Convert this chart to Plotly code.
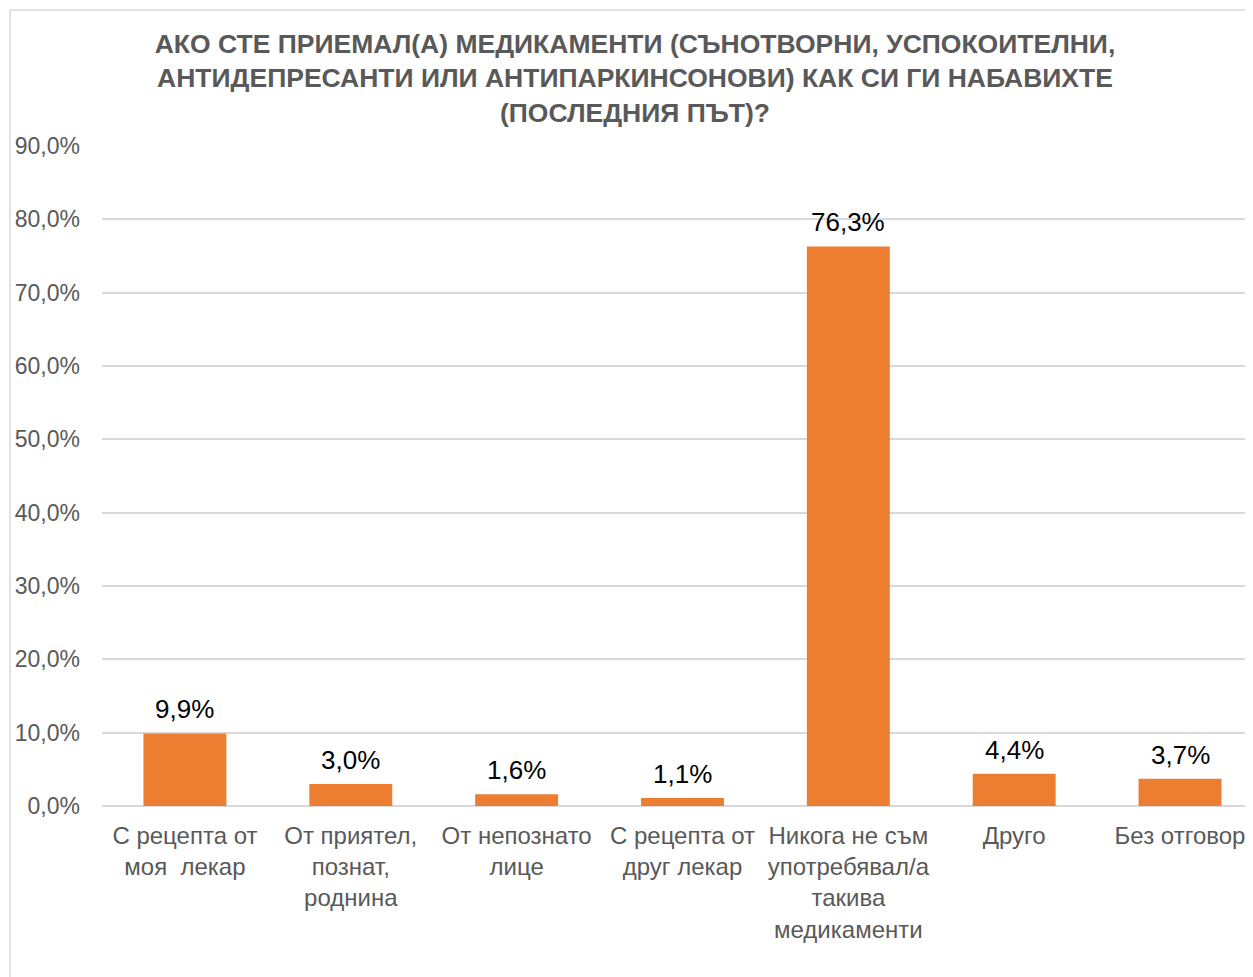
import plotly.graph_objects as go

categories = [
    "С рецепта от<br>моя  лекар",
    "От приятел,<br>познат,<br>роднина",
    "От непознато<br>лице",
    "С рецепта от<br>друг лекар",
    "Никога не съм<br>употребявал/а<br>такива<br>медикаменти",
    "Друго",
    "Без отговор",
]
values = [9.9, 3.0, 1.6, 1.1, 76.3, 4.4, 3.7]
labels = ["9,9%", "3,0%", "1,6%", "1,1%", "76,3%", "4,4%", "3,7%"]
tick_vals = [0, 10, 20, 30, 40, 50, 60, 70, 80, 90]
tick_text = ["0,0%", "10,0%", "20,0%", "30,0%", "40,0%", "50,0%", "60,0%", "70,0%", "80,0%", "90,0%"]
title = ("АКО СТЕ ПРИЕМАЛ(А) МЕДИКАМЕНТИ (СЪНОТВОРНИ, УСПОКОИТЕЛНИ,<br>"
         "АНТИДЕПРЕСАНТИ ИЛИ АНТИПАРКИНСОНОВИ) КАК СИ ГИ НАБАВИХТЕ<br>"
         "(ПОСЛЕДНИЯ ПЪТ)?")

# page has an 8px body margin; figure coordinates = page - 8
W, H = 1245, 969
ML, MR, MT, MB = 94, 0, 138, 171
FONT = "Liberation Sans, Arial, sans-serif"

fig = go.Figure()
fig.add_trace(go.Bar(
    x=list(range(len(categories))), y=values,
    marker=dict(color="#ED7D31", line=dict(width=0)),
    hoverinfo="skip",
))

for i, (v, t) in enumerate(zip(values, labels)):
    fig.add_annotation(x=i, y=v, text=t, showarrow=False, yanchor="bottom",
                       yshift=7, font=dict(family=FONT, size=26, color="#000000"))

pw = W - ML - MR
ph = H - MT - MB
def px2x(p):
    return (p - ML) / pw
def py2y(p):
    return (H - MB - p) / ph

border = dict(color="#D9D9D9", width=1.5)
fig.add_shape(type="line", xref="paper", yref="paper",
              x0=px2x(2), x1=px2x(2), y0=py2y(2), y1=py2y(H + 5), line=border)
fig.add_shape(type="line", xref="paper", yref="paper",
              x0=px2x(2), x1=px2x(W + 5), y0=py2y(2), y1=py2y(2), line=border)

fig.update_layout(
    width=W, height=H,
    margin=dict(l=ML, r=MR, t=MT, b=MB, pad=0),
    paper_bgcolor="white", plot_bgcolor="white",
    bargap=0.5, showlegend=False,
    title=dict(text=title, x=627 / W, xanchor="center", y=1 - 45 / H, yanchor="top",
               font=dict(family=FONT, size=26.5, color="#595959", weight="bold")),
    font=dict(family=FONT, color="#595959"),
    xaxis=dict(range=[-0.5, 6.44], tickvals=list(range(len(categories))), ticktext=categories,
               showgrid=False, zeroline=False, showline=False, ticks="",
               ticklabelstandoff=13, ticklabeloverflow="allow",
               tickfont=dict(size=24, color="#595959")),
    yaxis=dict(range=[0, 90], tickvals=tick_vals, ticktext=tick_text,
               showgrid=True, gridcolor="#D9D9D9", gridwidth=1.5,
               zeroline=True, zerolinecolor="#D9D9D9", zerolinewidth=1.5,
               ticks="", ticklabelstandoff=21,
               tickfont=dict(size=23, color="#595959")),
)

fig.write_html("out.html")
